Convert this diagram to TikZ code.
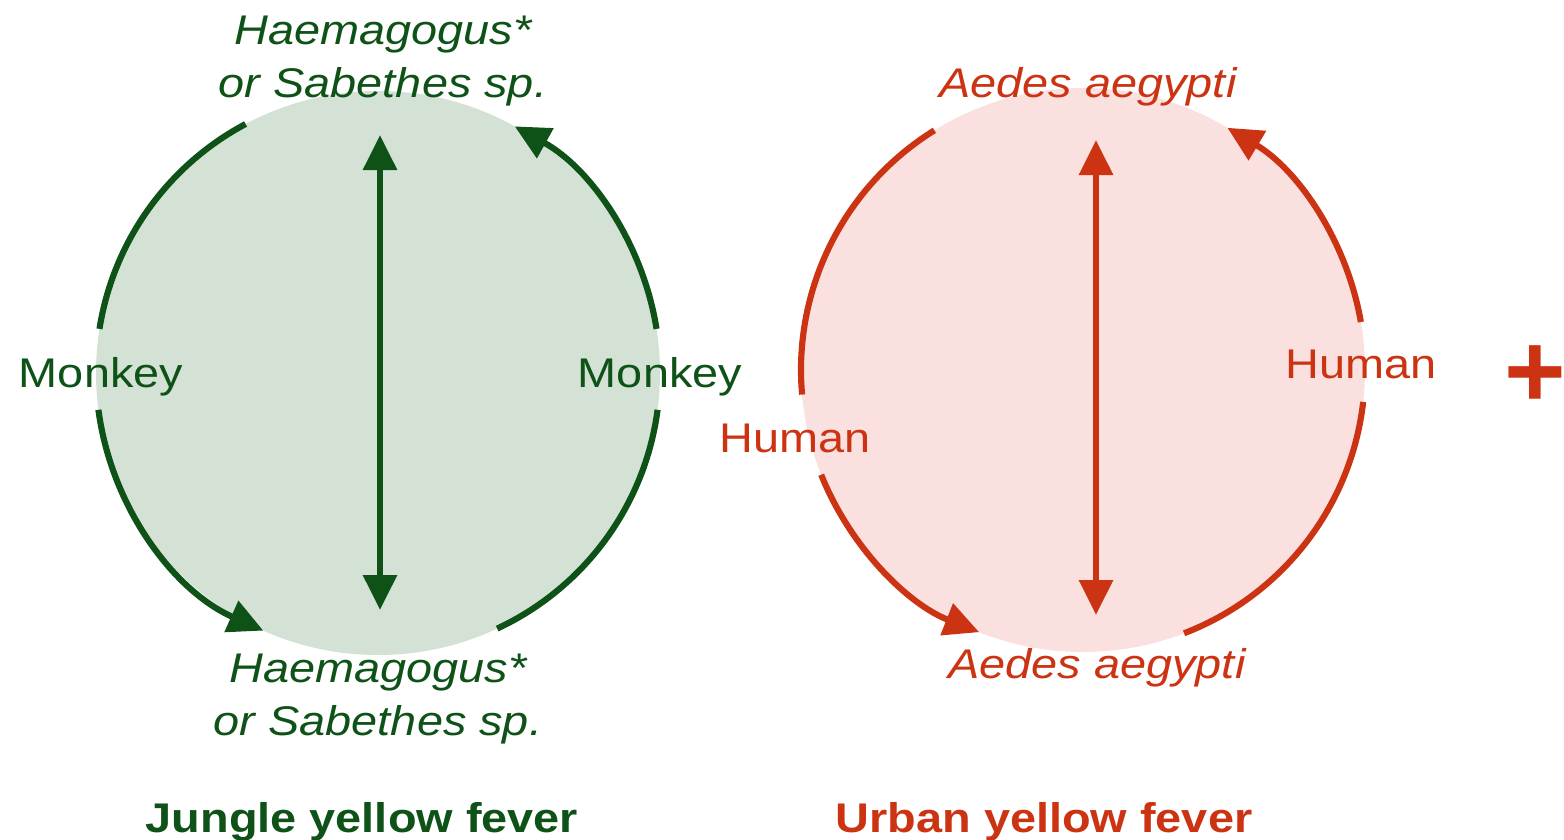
\documentclass[tikz,border=0pt]{standalone}
\usepackage{fontspec}
\setmainfont{Liberation Sans}[FakeStretch=1.13]
\newfontfamily\plusfont{Liberation Sans}
\usepackage{tikz}
\usetikzlibrary{arrows.meta}
\definecolor{junglegreen}{HTML}{0E5218}
\definecolor{junglefill}{HTML}{D4E2D5}
\definecolor{urbanred}{HTML}{CC3312}
\definecolor{urbanfill}{HTML}{FBE0E0}
\tikzset{
  host/.style={font=\fontsize{11.8}{15.1}\selectfont, inner sep=0pt, anchor=base},
  vector/.style={host, font=\fontsize{11.8}{15.1}\selectfont\itshape, align=center, anchor=center},
  title/.style={host, font=\fontsize{11.8}{15.1}\selectfont\bfseries},
  cyclearc/.style={line width=1.75pt},
  cyclearrow/.style={cyclearc, -{Triangle[length=3.5mm, width=3.3mm]}},
  biarrow/.style={line width=1.75pt, {Triangle[length=3.5mm, width=3.3mm]}-{Triangle[length=3.5mm, width=3.3mm]}}
}

\begin{document}
\begin{tikzpicture}
  \useasboundingbox (0,0) rectangle (15.64,-8.40);

  % jungle cycle
  \coordinate (jc) at (3.78,-3.73);
  \fill[junglefill] (jc) circle (2.82);
  \begin{scope}[junglegreen]
    \node[vector] (jtop) at (3.83,-0.61) {Haemagogus*\\or Sabethes sp.};
    \node[vector] (jbot) at (3.78,-6.99) {Haemagogus*\\or Sabethes sp.};
    \node[host] (jleft) at (1.01,-3.87) {Monkey};
    \node[host] (jright) at (6.60,-3.87) {Monkey};
    \node[title] (jtitle) at (3.62,-8.32) {Jungle yellow fever};

    \draw[cyclearc] (jc) ++(118:2.82) arc[start angle=118, end angle=171, radius=2.82];
    \draw[cyclearrow] (jc) ++(187.5:2.82) arc[start angle=187.5, end angle=246, radius=2.82];
    \draw[cyclearc] (jc) ++(295:2.82) arc[start angle=295, end angle=352.5, radius=2.82];
    \draw[cyclearrow] (jc) ++(9:2.82) arc[start angle=9, end angle=61, radius=2.82];

    \coordinate (jup) at (3.80,-1.35);
    \coordinate (jdown) at (3.80,-6.10);
    \draw[biarrow] (jup) -- (jdown);
  \end{scope}

  % urban cycle
  \coordinate (uc) at (10.83,-3.70);
  \fill[urbanfill] (uc) circle (2.82);
  \begin{scope}[urbanred]
    \node[vector] (utop) at (10.88,-0.87) {Aedes aegypti};
    \node[vector] (ubot) at (10.97,-6.68) {Aedes aegypti};
    \node[host] (uleft) at (7.95,-4.52) {Human};
    \node[host] (uright) at (13.61,-3.78) {Human};
    \node[title] (utitle) at (10.44,-8.32) {Urban yellow fever};

    \draw[cyclearc] (uc) ++(121.8:2.82) arc[start angle=121.8, end angle=185, radius=2.82];
    \draw[cyclearrow] (uc) ++(201.8:2.82) arc[start angle=201.8, end angle=248.4, radius=2.82];
    \draw[cyclearc] (uc) ++(291:2.82) arc[start angle=291, end angle=353.5, radius=2.82];
    \draw[cyclearrow] (uc) ++(9.8:2.82) arc[start angle=9.8, end angle=59.2, radius=2.82];

    \coordinate (uup) at (10.96,-1.40);
    \coordinate (udown) at (10.96,-6.15);
    \draw[biarrow] (uup) -- (udown);

    \node[font=\plusfont\fontsize{30}{30}\selectfont\bfseries, inner sep=0pt] (plus) at (15.355,-3.77) {+};
  \end{scope}
\end{tikzpicture}
\end{document}
